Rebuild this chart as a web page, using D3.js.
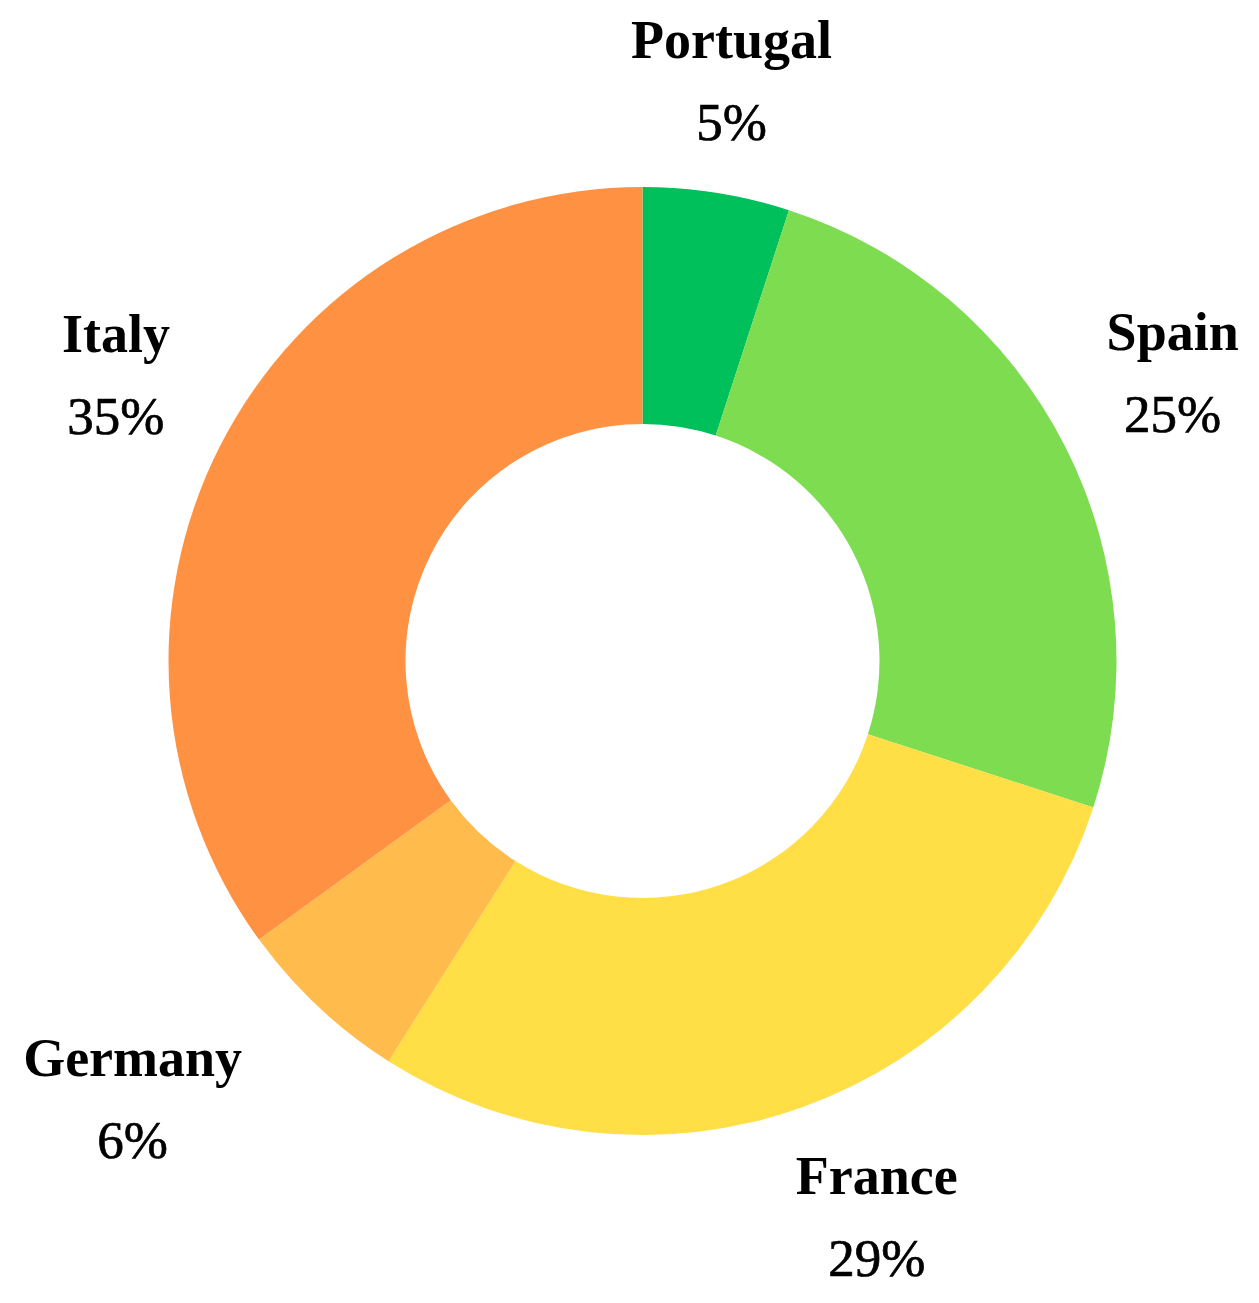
<!DOCTYPE html>
<html lang="en">
<head>
    <meta charset="UTF-8">
    <title>Share by country</title>
    <script src="https://d3js.org/d3.v7.min.js"></script>
    <style>
        body {
            margin: 0;
            background: #ffffff;
        }
        .name {
            font-family: "Liberation Serif", serif;
            font-weight: bold;
            font-size: 54px;
        }
        .pct {
            font-family: "Liberation Serif", serif;
            font-size: 53px;
            stroke: #000;
            stroke-width: 0.7px;
        }
    </style>
</head>
<body>
<div id="fig"></div>
<script>
    // data, clockwise from 12 o'clock
    let countries = ["Portugal", "Spain", "France", "Germany", "Italy"]
    let shares = [5, 25, 29, 6, 35]
    let colours = ["#00c05c", "#7edc50", "#ffde46", "#ffbc4c", "#ff9142"]

    let w = 1259, h = 1303
    let cx = 642.5, cy = 661
    let outerR = 474, innerR = 237

    // label distance from centre and angle nudge (degrees), per slice
    let labelPlace = {
        Portugal: {r: 569, da: 0},
        Spain: {r: 595, da: 0},
        France: {r: 620, da: -2.4},
        Germany: {r: 684, da: 5},
        Italy: {r: 591, da: 0}
    }

    let svg = d3.select("#fig").append("svg")
        .attr("width", w)
        .attr("height", h)

    let g = svg.append("g").attr("transform", `translate(${cx},${cy})`)

    let rows = countries.map((c, i) => ({name: c, value: shares[i], colour: colours[i]}))

    let pie = d3.pie().value(d => d.value).sort(null)
    let arc = d3.arc().innerRadius(innerR).outerRadius(outerR)

    let arcs = pie(rows)

    g.selectAll("path.slice")
        .data(arcs)
        .join("path")
        .attr("class", "slice")
        .attr("d", arc)
        .attr("fill", d => d.data.colour)

    let labels = g.selectAll("g.label")
        .data(arcs)
        .join("g")
        .attr("class", "label")
        .attr("transform", d => {
            let p = labelPlace[d.data.name]
            let a = (d.startAngle + d.endAngle) / 2 + p.da * Math.PI / 180
            return `translate(${p.r * Math.sin(a)},${-p.r * Math.cos(a)})`
        })

    labels.append("text")
        .attr("class", "name")
        .attr("text-anchor", "middle")
        .attr("y", -41)
        .text(d => d.data.name)

    labels.append("text")
        .attr("class", "pct")
        .attr("text-anchor", "middle")
        .attr("y", 41)
        .text(d => d.data.value + "%")
</script>
</body>
</html>
